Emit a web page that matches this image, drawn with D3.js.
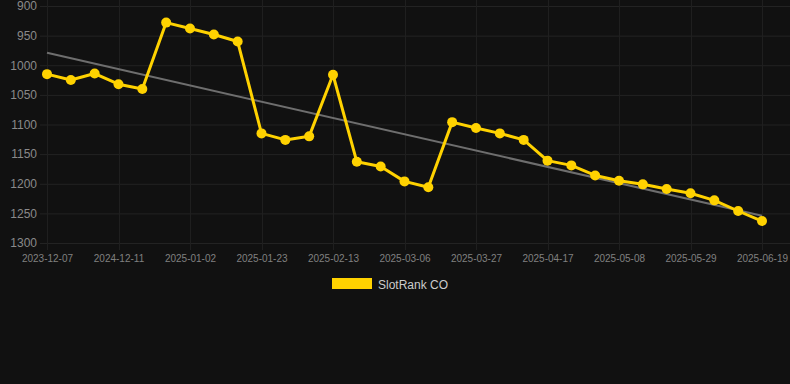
<!DOCTYPE html>
<html lang="en">
<head>
    <meta charset="UTF-8">
    <title></title>
    <style>
        html, body { margin: 0; padding: 0; background: #111111; }
        svg { display: block; font-family: "Liberation Sans", Arial, sans-serif; }
    </style>
</head>
<body>

</body>
<script src="https://cdn.jsdelivr.net/npm/d3@7/dist/d3.min.js" charset="utf-8"></script>
<script>
    // data
    var dates = ["2023-12-07", "2023-12-14", "2024-12-04", "2024-12-11", "2024-12-19", "2024-12-26",
        "2025-01-02", "2025-01-09", "2025-01-16", "2025-01-23", "2025-01-30", "2025-02-06",
        "2025-02-13", "2025-02-20", "2025-02-27", "2025-03-06", "2025-03-13", "2025-03-20",
        "2025-03-27", "2025-04-03", "2025-04-10", "2025-04-17", "2025-04-24", "2025-05-01",
        "2025-05-08", "2025-05-15", "2025-05-22", "2025-05-29", "2025-06-05", "2025-06-12",
        "2025-06-19"];
    var ranks = [1015, 1025, 1014, 1032, 1040, 928, 938, 948, 960, 1115, 1126, 1120,
        1016, 1163, 1171, 1196, 1206, 1096, 1106, 1115, 1126, 1161, 1169, 1186,
        1195, 1201, 1209, 1216, 1228, 1246, 1263];
    var trendEnds = [979, 1254];
    var yTicks = [900, 950, 1000, 1050, 1100, 1150, 1200, 1250, 1300];
    var seriesName = "SlotRank CO";

    var W = 790, H = 384;
    var gold = "#ffd200";

    var svg = d3.select("body").append("svg")
            .attr("width", W)
            .attr("height", H);

    svg.append("rect").attr("width", W).attr("height", H).attr("fill", "#111111");

    var x = d3.scalePoint()
            .domain(dates)
            .range([47, 762]);

    var y = d3.scaleLinear()
            .domain([900, 1300])
            .range([6, 243]);

    // grid
    var grid = svg.append("g");
    grid.selectAll("line.h")
            .data(yTicks)
            .enter().append("line")
            .attr("x1", 40).attr("x2", W)
            .attr("y1", function(d) { return y(d) + 0.5; })
            .attr("y2", function(d) { return y(d) + 0.5; })
            .style("stroke", "#232323");

    var labelled = dates.filter(function(d, i) { return i % 3 === 0; });
    grid.selectAll("line.v")
            .data(labelled)
            .enter().append("line")
            .attr("x1", function(d) { return Math.round(x(d)) + 0.5; })
            .attr("x2", function(d) { return Math.round(x(d)) + 0.5; })
            .attr("y1", 0).attr("y2", 250)
            .style("stroke", "#1f1f1f");

    // y axis labels
    svg.append("g")
            .attr("transform", "translate(37,0)")
            .call(d3.axisLeft(y).tickValues(yTicks).tickFormat(d3.format("d")).tickSize(0).tickPadding(0))
            .call(function(g) { g.select(".domain").remove(); })
            .selectAll("text")
            .style("font-size", "12px")
            .style("fill", "#8a8a8a");

    // x axis labels
    svg.append("g")
            .attr("transform", "translate(0,255)")
            .call(d3.axisBottom(x).tickValues(labelled).tickSize(0).tickPadding(0))
            .call(function(g) { g.select(".domain").remove(); })
            .selectAll("text")
            .style("font-size", "10px")
            .style("fill", "#808080");

    // trend line
    svg.append("line")
            .attr("x1", x(dates[0]))
            .attr("y1", y(trendEnds[0]))
            .attr("x2", x(dates[dates.length - 1]))
            .attr("y2", y(trendEnds[1]))
            .style("stroke", "#6e6e6e")
            .style("stroke-width", 2);

    // series line and points
    var line = d3.line()
            .x(function(d, i) { return x(dates[i]); })
            .y(function(d) { return y(d); });

    svg.append("path")
            .datum(ranks)
            .attr("d", line)
            .style("fill", "none")
            .style("stroke", gold)
            .style("stroke-width", 3)
            .style("stroke-linejoin", "round");

    svg.selectAll("circle.pt")
            .data(ranks)
            .enter().append("circle")
            .attr("cx", function(d, i) { return x(dates[i]); })
            .attr("cy", function(d) { return y(d); })
            .attr("r", 5)
            .style("fill", gold);

    // legend
    svg.append("rect")
            .attr("x", 332).attr("y", 278)
            .attr("width", 40).attr("height", 11)
            .style("fill", gold);
    svg.append("text")
            .attr("x", 378).attr("y", 289)
            .style("font-size", "12px")
            .style("fill", "#cccccc")
            .text(seriesName);
</script>
</html>
